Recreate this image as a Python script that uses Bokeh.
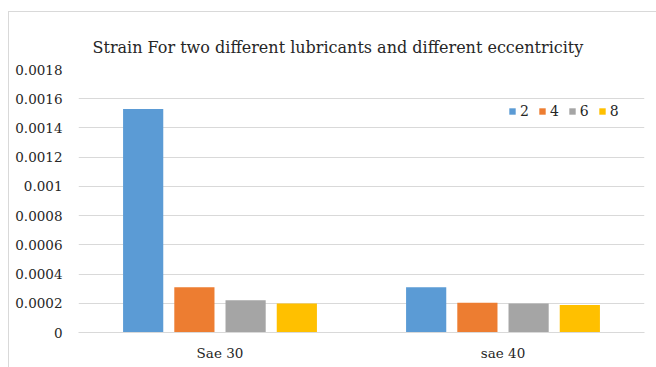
from bokeh.plotting import figure
from bokeh.models import (FactorRange, Range1d, ColumnDataSource, Legend, LegendItem,
                          FixedTicker)
from bokeh.transform import dodge
from bokeh.embed import file_html
from bokeh.resources import INLINE

# Strain per lubricant, one series per eccentricity
lubricants = ["Sae 30", "sae 40"]
eccentricities = ["2", "4", "6", "8"]
strain_e2 = [0.00153, 0.00031]
strain_e4 = [0.00031, 0.000204]
strain_e6 = [0.00022, 0.000198]
strain_e8 = [0.000198, 0.000188]

y_ticks = [0, 0.0002, 0.0004, 0.0006, 0.0008, 0.001, 0.0012, 0.0014, 0.0016, 0.0018]
y_tick_labels = ["0", "0.0002", "0.0004", "0.0006", "0.0008", "0.001",
                 "0.0012", "0.0014", "0.0016", "0.0018"]

colors = ["#5B9BD5", "#ED7D31", "#A5A5A5", "#FFC000"]
FONT = "DejaVu Serif"
TEXT = "#262626"

source = ColumnDataSource(data=dict(
    lub=lubricants, e2=strain_e2, e4=strain_e4, e6=strain_e6, e8=strain_e8))

p = figure(width=648, height=356, x_range=FactorRange(*lubricants),
           y_range=Range1d(0, 0.0018), output_backend="svg", toolbar_location=None,
           min_border_left=69, min_border_right=13, min_border_top=57,
           min_border_bottom=36, margin=(11, 0, 0, 8),
           styles={"border-top": "1px solid #d9d9d9", "border-left": "1px solid #d9d9d9"})
p.outline_line_color = None
p.background_fill_color = "white"
p.border_fill_color = "white"

p.title.text = "Strain For two different lubricants and different eccentricity"
p.title.text_font = FONT
p.title.text_font_size = "16px"
p.title.text_font_style = "normal"
p.title.text_color = TEXT
p.title.align = "left"
p.title.offset = 14
p.title.standoff = 26

step = 0.181
width = 0.142
renderers = []
for i, (col, c) in enumerate(zip(["e2", "e4", "e6", "e8"], colors)):
    r = p.vbar(x=dodge("lub", (i - 1.5) * step, range=p.x_range), top=col, width=width,
               source=source, fill_color=c, line_color=None)
    renderers.append(r)

legend = Legend(items=[LegendItem(label=e, renderers=[r]) for e, r in zip(eccentricities, renderers)],
                orientation="horizontal", location=(430, 213), padding=0, margin=0,
                spacing=9, glyph_width=8, glyph_height=8, label_standoff=4,
                label_width=8, border_line_color=None, background_fill_alpha=0,
                label_text_font=FONT, label_text_font_size="14px",
                label_text_color=TEXT)
p.add_layout(legend)

p.xgrid.grid_line_color = None
p.ygrid.grid_line_color = "#d9d9d9"
p.ygrid.ticker = FixedTicker(ticks=y_ticks)

p.yaxis.ticker = FixedTicker(ticks=y_ticks)
p.yaxis.major_label_overrides = {t: s for t, s in zip(y_ticks, y_tick_labels)}
p.yaxis.axis_line_color = None
p.yaxis.major_tick_line_color = None
p.yaxis.minor_tick_line_color = None
p.yaxis.major_tick_out = 0
p.yaxis.major_tick_in = 0
p.yaxis.major_label_standoff = 16
p.yaxis.major_label_text_font = FONT
p.yaxis.major_label_text_font_size = "13.5px"
p.yaxis.major_label_text_color = TEXT

p.xaxis.axis_line_color = "#d9d9d9"
p.xaxis.major_tick_line_color = None
p.xaxis.minor_tick_line_color = None
p.xaxis.major_tick_out = 0
p.xaxis.major_tick_in = 0
p.xaxis.major_label_standoff = 12
p.xaxis.major_label_text_font = FONT
p.xaxis.major_label_text_font_size = "13.5px"
p.xaxis.major_label_text_color = TEXT

open("out.html", "w").write(file_html(p, INLINE))
